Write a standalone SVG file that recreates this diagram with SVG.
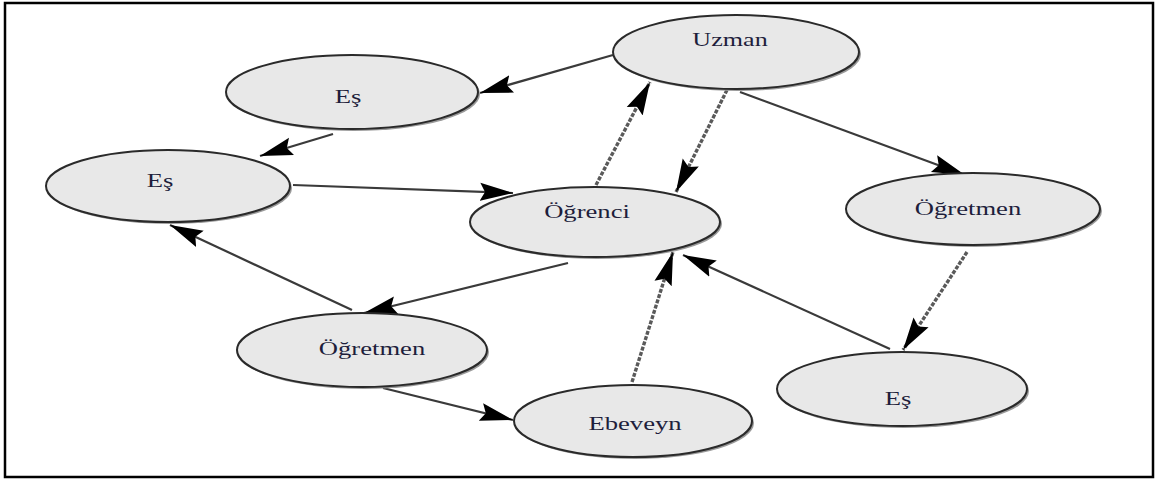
<svg xmlns="http://www.w3.org/2000/svg" width="1159" height="481" viewBox="0 0 1159 481">
<style>
.sh{fill:#9a9a9a;}
.el{fill:#e8e8e8;stroke:#2a2a2a;stroke-width:2;}
.lb{font-family:"Liberation Serif","Times New Roman",serif;font-size:18px;fill:#1e1e3c;text-anchor:middle;}
.ed{stroke:#3a3a3a;stroke-width:2.2;fill:none;marker-end:url(#ah);}
.ed2{stroke:#5a5a5a;stroke-width:3.4;fill:none;stroke-dasharray:4 1.5;marker-end:url(#ah);}
</style>
<defs>
<marker id="ah" markerUnits="userSpaceOnUse" markerWidth="36" markerHeight="22" refX="33" refY="10" orient="auto">
<path d="M0,1 L33,10 L0,19 L5,10 Z" fill="#000"/>
</marker>
</defs>
<rect x="0" y="0" width="1159" height="481" fill="#fff"/>
<rect x="5" y="3" width="1148" height="474" fill="none" stroke="#000" stroke-width="2.5"/>
<g id="connectors">
<line class="ed" x1="613" y1="55" x2="480" y2="93"/>
<line class="ed" x1="333" y1="134" x2="260" y2="156"/>
<line class="ed" x1="293" y1="185" x2="513" y2="193"/>
<line class="ed2" x1="596" y1="185" x2="650" y2="82"/>
<line class="ed2" x1="727" y1="90" x2="676" y2="192"/>
<line class="ed" x1="740" y1="92" x2="965" y2="175"/>
<line class="ed2" x1="967" y1="252" x2="903" y2="350"/>
<line class="ed" x1="890" y1="349" x2="683" y2="255"/>
<line class="ed2" x1="632" y1="382" x2="673" y2="252"/>
<line class="ed" x1="568" y1="263" x2="364" y2="313"/>
<line class="ed" x1="352" y1="310" x2="170" y2="225"/>
<line class="ed" x1="383" y1="388" x2="513" y2="420"/>
</g>
<g id="uzman">
<ellipse class="sh" cx="738" cy="54" rx="123" ry="37"/>
<ellipse class="el" cx="736" cy="52" rx="123" ry="37"/>
<text class="lb" transform="translate(730,46) scale(1.45,1)">Uzman</text>
</g>
<g id="es-top">
<ellipse class="sh" cx="354" cy="94" rx="126" ry="37"/>
<ellipse class="el" cx="352" cy="92" rx="126" ry="37"/>
<text class="lb" transform="translate(348,103) scale(1.48,1)">Eş</text>
</g>
<g id="es-left">
<ellipse class="sh" cx="170" cy="188" rx="122" ry="36"/>
<ellipse class="el" cx="168" cy="186" rx="122" ry="36"/>
<text class="lb" transform="translate(160,187) scale(1.48,1)">Eş</text>
</g>
<g id="ogrenci">
<ellipse class="sh" cx="597" cy="224" rx="125" ry="35"/>
<ellipse class="el" cx="595" cy="222" rx="125" ry="35"/>
<text class="lb" transform="translate(587,218) scale(1.48,1)">Öğrenci</text>
</g>
<g id="ogretmen-right">
<ellipse class="sh" cx="975" cy="211" rx="127" ry="36"/>
<ellipse class="el" cx="973" cy="209" rx="127" ry="36"/>
<text class="lb" transform="translate(968,215) scale(1.48,1)">Öğretmen</text>
</g>
<g id="ogretmen-left">
<ellipse class="sh" cx="364" cy="352" rx="125" ry="37"/>
<ellipse class="el" cx="362" cy="350" rx="125" ry="37"/>
<text class="lb" transform="translate(372,355) scale(1.48,1)">Öğretmen</text>
</g>
<g id="ebeveyn">
<ellipse class="sh" cx="635" cy="423" rx="119" ry="36"/>
<ellipse class="el" cx="633" cy="421" rx="119" ry="36"/>
<text class="lb" transform="translate(635,430) scale(1.48,1)">Ebeveyn</text>
</g>
<g id="es-bottom">
<ellipse class="sh" cx="904" cy="391" rx="125" ry="37"/>
<ellipse class="el" cx="902" cy="389" rx="125" ry="37"/>
<text class="lb" transform="translate(898,405) scale(1.48,1)">Eş</text>
</g>
</svg>
